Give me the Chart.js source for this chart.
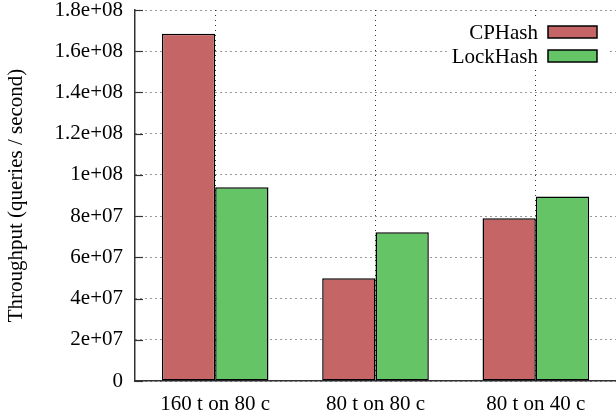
<!DOCTYPE html>
<html>
<head>
<meta charset="utf-8">
<script src="https://cdn.jsdelivr.net/npm/chart.js@4.4.1/dist/chart.umd.min.js"></script>
<style>
  html, body { margin: 0; padding: 0; background: #ffffff; }
  #wrap { width: 616px; height: 419px; position: relative; }
</style>
</head>
<body>
<div id="wrap"><canvas id="c" width="616" height="419"></canvas></div>
<script>
const categories = ['160 t on 80 c', '80 t on 80 c', '80 t on 40 c'];
const cphash = [168500000, 49800000, 79000000];
const lockhash = [94000000, 72200000, 89500000];
const seriesNames = ['CPHash', 'LockHash'];
const yTickLabels = ['0', '2e+07', '4e+07', '6e+07', '8e+07', '1e+08', '1.2e+08', '1.4e+08', '1.6e+08', '1.8e+08'];
const yTitle = 'Throughput (queries / second)';

const FONT = '"Liberation Serif", "Times New Roman", serif';
const RED = '#c56566';
const GREEN = '#65c566';

const insideTicks = {
  id: 'insideTicks',
  afterDraw(chart) {
    const ctx = chart.ctx;
    const y = chart.scales.y;
    const area = chart.chartArea;
    ctx.save();
    ctx.strokeStyle = '#333333';
    ctx.lineWidth = 1.2;
    y.ticks.forEach(t => {
      const py = Math.round(y.getPixelForValue(t.value)) + 0.5;
      ctx.beginPath();
      ctx.moveTo(area.left, py);
      ctx.lineTo(area.left + 8, py);
      ctx.stroke();
    });
    ctx.restore();
  }
};

const boxLegend = {
  id: 'boxLegend',
  afterDraw(chart) {
    const ctx = chart.ctx;
    const area = chart.chartArea;
    const swRight = area.right - 19;
    const swLeft = swRight - 49;
    const top = area.top + 16;
    const rowH = 24;
    const n = chart.data.datasets.length;
    ctx.save();
    ctx.font = '21px ' + FONT;
    let maxW = 0;
    chart.data.datasets.forEach(ds => { maxW = Math.max(maxW, ctx.measureText(ds.label).width); });
    ctx.fillStyle = '#ffffff';
    ctx.fillRect(swLeft - 10 - maxW - 4, top - 7, maxW + 10 + 49 + 4 + 12, n * rowH + 2);
    chart.data.datasets.forEach((ds, i) => {
      const cy = top + 6 + i * rowH;
      ctx.fillStyle = ds.backgroundColor;
      ctx.fillRect(swLeft, cy - 6, 49, 12);
      ctx.strokeStyle = '#000000';
      ctx.lineWidth = 1.5;
      ctx.strokeRect(swLeft, cy - 6, 49, 12);
      ctx.fillStyle = '#000000';
      ctx.textAlign = 'right';
      ctx.textBaseline = 'middle';
      ctx.fillText(ds.label, swLeft - 10, cy + 1);
    });
    ctx.restore();
  }
};

new Chart(document.getElementById('c'), {
  type: 'bar',
  data: {
    labels: categories,
    datasets: [
      { label: seriesNames[0], data: cphash, backgroundColor: RED, borderColor: '#000000', borderWidth: 1.5, borderSkipped: false },
      { label: seriesNames[1], data: lockhash, backgroundColor: GREEN, borderColor: '#000000', borderWidth: 1.5, borderSkipped: false }
    ]
  },
  options: {
    responsive: false,
    animation: false,
    devicePixelRatio: 1,
    layout: { padding: { left: 0, top: 0, right: 0, bottom: 0 } },
    datasets: { bar: { barPercentage: 1.0, categoryPercentage: 0.665 } },
    plugins: {
      legend: { display: false },
      tooltip: { enabled: false }
    },
    scales: {
      x: {
        offset: true,
        grid: { offset: false, color: '#333333', lineWidth: 1, drawTicks: false },
        border: { display: true, color: '#333333', width: 1.5, dash: [1, 4] },
        ticks: { color: '#000000', font: { family: FONT, size: 21 }, padding: 11, maxRotation: 0, autoSkip: false },
        afterFit(scale) { scale.height = 38; scale.paddingLeft = 0; scale.paddingRight = 0; }
      },
      y: {
        min: 0,
        max: 180000000,
        grid: { color: '#333333', lineWidth: 1, drawTicks: false },
        border: { display: true, color: '#333333', width: 1.5, dash: [1, 4] },
        ticks: {
          stepSize: 20000000,
          color: '#000000',
          font: { family: FONT, size: 21 },
          padding: 12,
          callback: (v, i) => yTickLabels[i]
        },
        title: { display: true, text: yTitle, color: '#000000', font: { family: FONT, size: 21 }, padding: { top: 4, bottom: 0 } },
        afterFit(scale) { scale.width = 135; scale.paddingTop = 10; scale.paddingBottom = 0; }
      }
    }
  },
  plugins: [insideTicks, boxLegend]
});
</script>
</body>
</html>
